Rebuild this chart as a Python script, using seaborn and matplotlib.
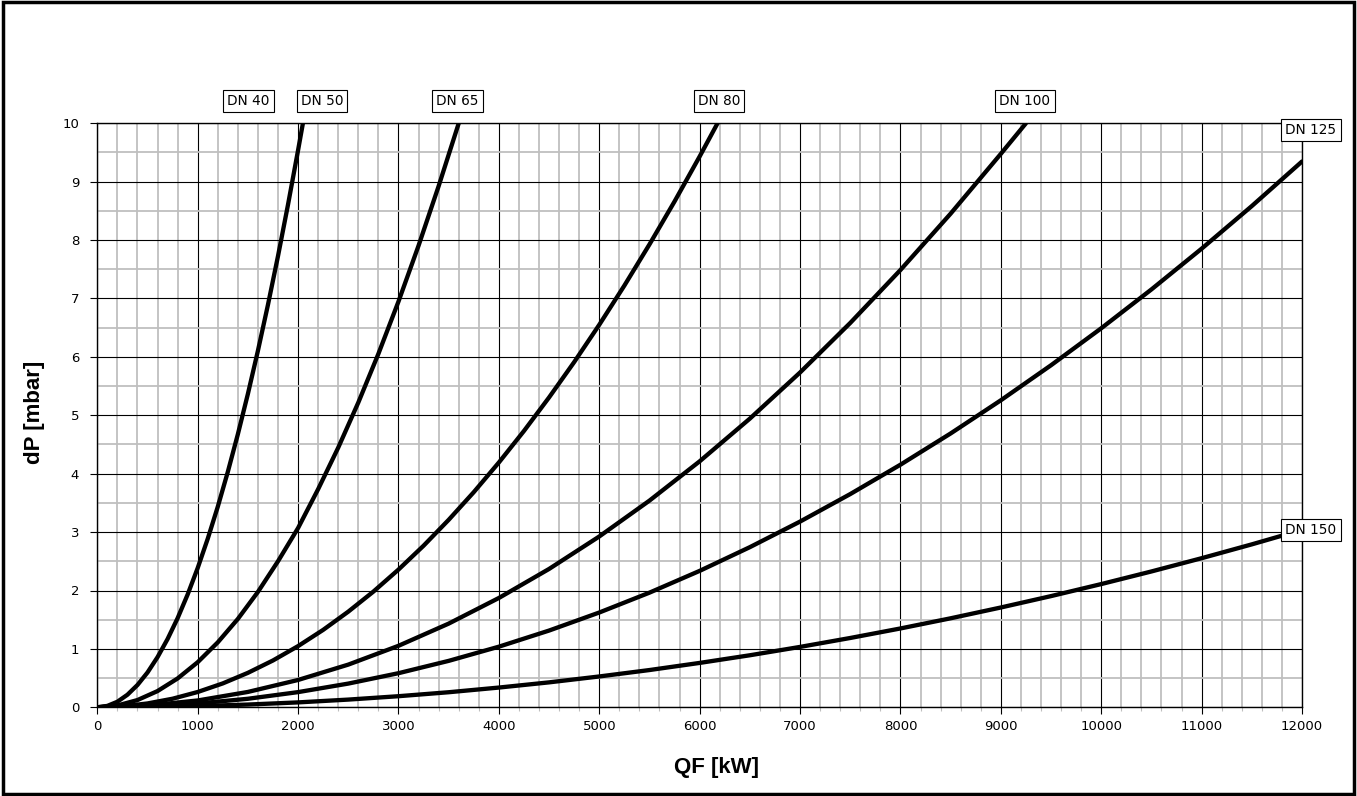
import numpy as np
import pandas as pd
import matplotlib
matplotlib.use("Agg")
import matplotlib.pyplot as plt
from matplotlib.patches import Rectangle
from matplotlib.ticker import MultipleLocator
import seaborn as sns

# ---- data ----
q_dn50 = [0, 100, 200, 300, 400, 500, 600, 700, 800, 900, 1000, 1100, 1200, 1300, 1400,
          1500, 1600, 1700, 1800, 1900, 2000, 2048]
dp_dn50 = [0, 0.024, 0.095, 0.215, 0.382, 0.596, 0.859, 1.169, 1.526, 1.932, 2.385, 2.886, 3.434,
           4.031, 4.675, 5.366, 6.106, 6.893, 7.727, 8.61, 9.54, 10.0]

q_dn65 = [0, 200, 400, 600, 800, 1000, 1200, 1400, 1600, 1800, 2000, 2200, 2400, 2600,
          2800, 3000, 3200, 3400, 3600]
dp_dn65 = [0, 0.031, 0.124, 0.278, 0.494, 0.772, 1.112, 1.513, 1.976, 2.501, 3.07, 3.736, 4.447,
           5.219, 6.053, 6.948, 7.905, 8.924, 10.0]

q_dn80 = [0, 250, 500, 750, 1000, 1250, 1500, 1750, 2000, 2250, 2500, 2750, 3000, 3250,
          3500, 3750, 4000, 4250, 4500, 4750, 5000, 5250, 5500, 5750, 6000, 6178]
dp_dn80 = [0, 0.016, 0.066, 0.147, 0.262, 0.409, 0.59, 0.802, 1.048, 1.326, 1.638, 1.981, 2.358,
           2.767, 3.21, 3.684, 4.192, 4.732, 5.306, 5.911, 6.55, 7.221, 7.926, 8.662, 9.432, 10.0]

q_dn100 = [0, 500, 1000, 1500, 2000, 2500, 3000, 3500, 4000, 4500, 5000, 5500, 6000,
           6500, 7000, 7500, 8000, 8500, 9000, 9250]
dp_dn100 = [0, 0.029, 0.117, 0.263, 0.468, 0.731, 1.053, 1.433, 1.872, 2.369, 2.925, 3.539, 4.212,
            4.943, 5.733, 6.581, 7.488, 8.453, 9.477, 10.0]

q_dn125 = [0, 500, 1000, 1500, 2000, 2500, 3000, 3500, 4000, 4500, 5000, 5500, 6000,
           6500, 7000, 7500, 8000, 8500, 9000, 9500, 10000, 10500, 11000, 11500, 12000]
dp_dn125 = [0, 0.016, 0.065, 0.146, 0.26, 0.406, 0.584, 0.795, 1.038, 1.314, 1.623, 1.963, 2.336,
            2.742, 3.18, 3.651, 4.154, 4.689, 5.257, 5.857, 6.49, 7.155, 7.853, 8.583, 9.346]

q_dn150 = [0, 500, 1000, 1500, 2000, 2500, 3000, 3500, 4000, 4500, 5000, 5500, 6000,
           6500, 7000, 7500, 8000, 8500, 9000, 9500, 10000, 10500, 11000, 11500, 12000]
dp_dn150 = [0, 0.005, 0.021, 0.047, 0.084, 0.132, 0.19, 0.258, 0.338, 0.427, 0.528, 0.638, 0.76,
            0.891, 1.034, 1.187, 1.35, 1.524, 1.709, 1.904, 2.11, 2.326, 2.553, 2.79, 3.038]

label_names = ["DN 40", "DN 50", "DN 65", "DN 80", "DN 100", "DN 125", "DN 150"]
label_x = [1506, 2238, 3588, 6193, 9240, 12090, 12090]
label_y = [10.38, 10.38, 10.38, 10.38, 10.38, 9.88, 3.04]

x_ticks = list(range(0, 12001, 1000))
y_ticks = list(range(0, 11))

series = {
    "DN 50": (q_dn50, dp_dn50),
    "DN 65": (q_dn65, dp_dn65),
    "DN 80": (q_dn80, dp_dn80),
    "DN 100": (q_dn100, dp_dn100),
    "DN 125": (q_dn125, dp_dn125),
    "DN 150": (q_dn150, dp_dn150),
}
frames = []
for name, (q, dp) in series.items():
    frames.append(pd.DataFrame({"QF": q, "dP": dp, "DN": name}))
df = pd.concat(frames, ignore_index=True)

sns.set_style("white")
plt.rcParams["font.family"] = ["DejaVu Sans"]
plt.rcParams["text.color"] = "black"
plt.rcParams["axes.labelcolor"] = "black"
plt.rcParams["xtick.color"] = "black"
plt.rcParams["ytick.color"] = "black"

fig = plt.figure(figsize=(13.57, 7.96), dpi=100)
ax = fig.add_axes([97.3 / 1357, 1 - 707.3 / 796, (1302 - 97.3) / 1357, (707.3 - 123.3) / 796])

sns.lineplot(data=df, x="QF", y="dP", hue="DN", palette=["black"] * 6,
             estimator=None, sort=False, legend=False, linewidth=3.1, ax=ax, zorder=5)
for ln in ax.lines:
    ln.set_solid_joinstyle("round")
    ln.set_solid_capstyle("round")

ax.set_xlim(0, 12000)
ax.set_ylim(0, 10)
ax.set_xticks(x_ticks)
ax.set_yticks(y_ticks)
ax.xaxis.set_minor_locator(MultipleLocator(200))
ax.yaxis.set_minor_locator(MultipleLocator(0.5))

ax.grid(which="minor", color="#bfbfbf", linewidth=1.3, zorder=0)
ax.grid(which="major", color="black", linewidth=0.8, zorder=1)
ax.set_axisbelow(True)

for s in ax.spines.values():
    s.set_color("black")
    s.set_linewidth(1.0)

ax.tick_params(axis="both", which="major", direction="out", length=5, width=0.8,
               color="black", labelcolor="black", labelsize=9.5, bottom=True, left=True)
ax.tick_params(axis="x", which="minor", direction="out", length=3, width=0.8,
               color="#bfbfbf", bottom=True)
ax.tick_params(axis="y", which="minor", length=0)
ax.tick_params(axis="x", which="major", pad=4)
ax.tick_params(axis="y", which="major", pad=8)

ax.set_xlabel("QF [kW]", fontsize=16, fontweight="bold", family="Liberation Sans", color="black")
ax.set_ylabel("dP [mbar]", fontsize=16, fontweight="bold", family="Liberation Sans", color="black")
ax.xaxis.set_label_coords(0.5136, -0.085)
ax.yaxis.set_label_coords(-0.0434, 0.505)

for name, lx, ly in zip(label_names, label_x, label_y):
    ax.text(lx, ly, name, ha="center", va="center", fontsize=9.8, color="black",
            clip_on=False, zorder=10,
            bbox=dict(boxstyle="square,pad=0.3", facecolor="white", edgecolor="black", linewidth=0.8))

fig.patches.append(Rectangle((0.002, 0.003), 0.996, 0.994, transform=fig.transFigure,
                             fill=False, edgecolor="black", linewidth=2.5))

fig.savefig("out.png", dpi=100)
